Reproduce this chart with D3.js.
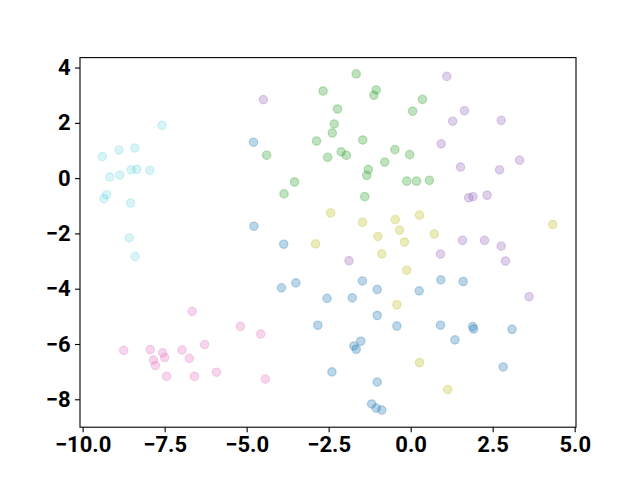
<!DOCTYPE html>
<html><head><meta charset="utf-8">
<script src="https://cdn.jsdelivr.net/npm/d3@7"></script>
<style>body{margin:0;background:#fff}svg{display:block}</style>
</head><body>
<script>
const xTicks = [-10.0, -7.5, -5.0, -2.5, 0.0, 2.5, 5.0];
const yTicks = [-8, -6, -4, -2, 0, 2, 4];
const seriesNames = ["blue", "green", "purple", "olive", "cyan", "pink"];
const seriesColors = ["#1f77b4", "#2ca02c", "#9467bd", "#bcbd22", "#17becf", "#e377c2"];
const seriesAlpha = [0.3, 0.3, 0.3, 0.3, 0.17, 0.3];

const blueX = [-4.79,-4.78,-3.87,-3.94,-3.50,-2.55,-1.78,-1.47,-1.02,-1.02,-0.42,-2.83,-1.73,-1.66,-1.52,-2.40,-1.02,-1.19,-1.05,-0.88,0.92,1.60,0.26,0.91,1.89,1.92,3.09,1.35,2.82];
const blueY = [1.30,-1.74,-2.39,-3.97,-3.79,-4.35,-4.33,-3.72,-4.03,-4.97,-5.35,-5.32,-6.07,-6.19,-5.90,-7.01,-7.38,-8.17,-8.32,-8.39,-3.68,-3.74,-4.08,-5.32,-5.37,-5.46,-5.47,-5.85,-6.83];

const greenX = [-1.66,-2.67,-1.05,-1.12,-2.23,-2.33,-2.39,-2.87,-1.46,-0.48,-2.12,-1.96,-2.53,-0.79,-1.29,-1.34,-4.39,-3.54,-3.86,-1.40,0.36,0.06,-0.03,-0.12,0.18,0.57];
const greenY = [3.77,3.15,3.19,3.00,2.50,1.96,1.63,1.34,1.38,1.03,0.95,0.83,0.75,0.58,0.31,0.10,0.83,-0.14,-0.57,-0.67,2.85,2.42,0.85,-0.11,-0.11,-0.08];

const purpleX = [-4.49,-1.88,1.10,1.64,1.28,2.76,0.93,1.52,2.71,3.32,1.77,1.90,2.33,1.58,2.25,2.76,0.91,2.89,3.61];
const purpleY = [2.84,-2.99,3.68,2.44,2.06,2.09,1.24,0.40,0.30,0.65,-0.71,-0.67,-0.62,-2.25,-2.25,-2.46,-2.75,-3.00,-4.29];

const oliveX = [-2.44,-1.47,-0.47,-0.34,-1.00,-0.19,-2.90,-0.88,-0.12,-0.42,0.27,0.72,4.33,0.27,1.13];
const oliveY = [-1.26,-1.60,-1.50,-1.88,-2.11,-2.31,-2.38,-2.74,-3.33,-4.58,-1.34,-2.02,-1.68,-6.67,-7.65];

const cyanX = [-7.58,-8.41,-8.89,-9.40,-8.52,-8.35,-7.95,-9.17,-8.87,-9.27,-9.35,-8.54,-8.58,-8.40];
const cyanY = [1.91,1.09,1.02,0.78,0.30,0.32,0.28,0.04,0.11,-0.60,-0.74,-0.90,-2.16,-2.84];

const pinkX = [-8.75,-7.94,-7.56,-7.84,-7.50,-7.78,-7.44,-6.97,-6.75,-6.66,-6.28,-6.59,-5.92,-5.19,-4.57,-4.43];
const pinkY = [-6.23,-6.20,-6.32,-6.58,-6.49,-6.78,-7.17,-6.22,-6.52,-4.82,-6.02,-7.17,-7.02,-5.36,-5.64,-7.27];

const seriesData = [[blueX, blueY],[greenX, greenY],[purpleX, purpleY],[oliveX, oliveY],[cyanX, cyanY],[pinkX, pinkY]];

const W = 640, H = 480;
const m = {left: 80, right: 576, top: 57.6, bottom: 427.2};
const svg = d3.select("body").append("svg").attr("width", W).attr("height", H);

const x = d3.scaleLinear().domain([-10.08, 5.04]).range([m.left, m.right]);
const y = d3.scaleLinear().domain([-9.01, 4.36]).range([m.bottom, m.top]);

const g = svg.append("g");
seriesData.forEach((s, i) => {
  const pts = s[0].map((v, j) => ({x: v, y: s[1][j]}));
  g.selectAll(null).data(pts).enter().append("circle")
    .attr("cx", d => x(d.x)).attr("cy", d => y(d.y)).attr("r", 4.2)
    .attr("fill", seriesColors[i]).attr("fill-opacity", seriesAlpha[i])
    .attr("stroke", seriesColors[i]).attr("stroke-opacity", seriesAlpha[i]).attr("stroke-width", 1.2);
});

const fmtX = d => d3.format(".1f")(d).replace("-", "\u2212");
const fmtY = d => String(d).replace("-", "\u2212");

const xAxis = svg.append("g").attr("transform", `translate(0,${m.bottom})`)
  .call(d3.axisBottom(x).tickValues(xTicks).tickFormat(fmtX).tickSize(5).tickPadding(4.5).tickSizeOuter(0));
const yAxis = svg.append("g").attr("transform", `translate(${m.left},0)`)
  .call(d3.axisLeft(y).tickValues(yTicks).tickFormat(fmtY).tickSize(5).tickPadding(4.5).tickSizeOuter(0));
[xAxis, yAxis].forEach(a => {
  a.select(".domain").remove();
  a.selectAll(".tick line").attr("stroke", "#000").attr("stroke-width", 1.1);
  a.selectAll("text").attr("fill", "#000").style("font-family", "Roboto, sans-serif")
    .style("font-weight", "bold").style("font-size", "22px");
});

svg.append("rect").attr("x", m.left).attr("y", m.top)
  .attr("width", m.right - m.left).attr("height", m.bottom - m.top)
  .attr("fill", "none").attr("stroke", "#000").attr("stroke-width", 1.1);
</script>
</body></html>
